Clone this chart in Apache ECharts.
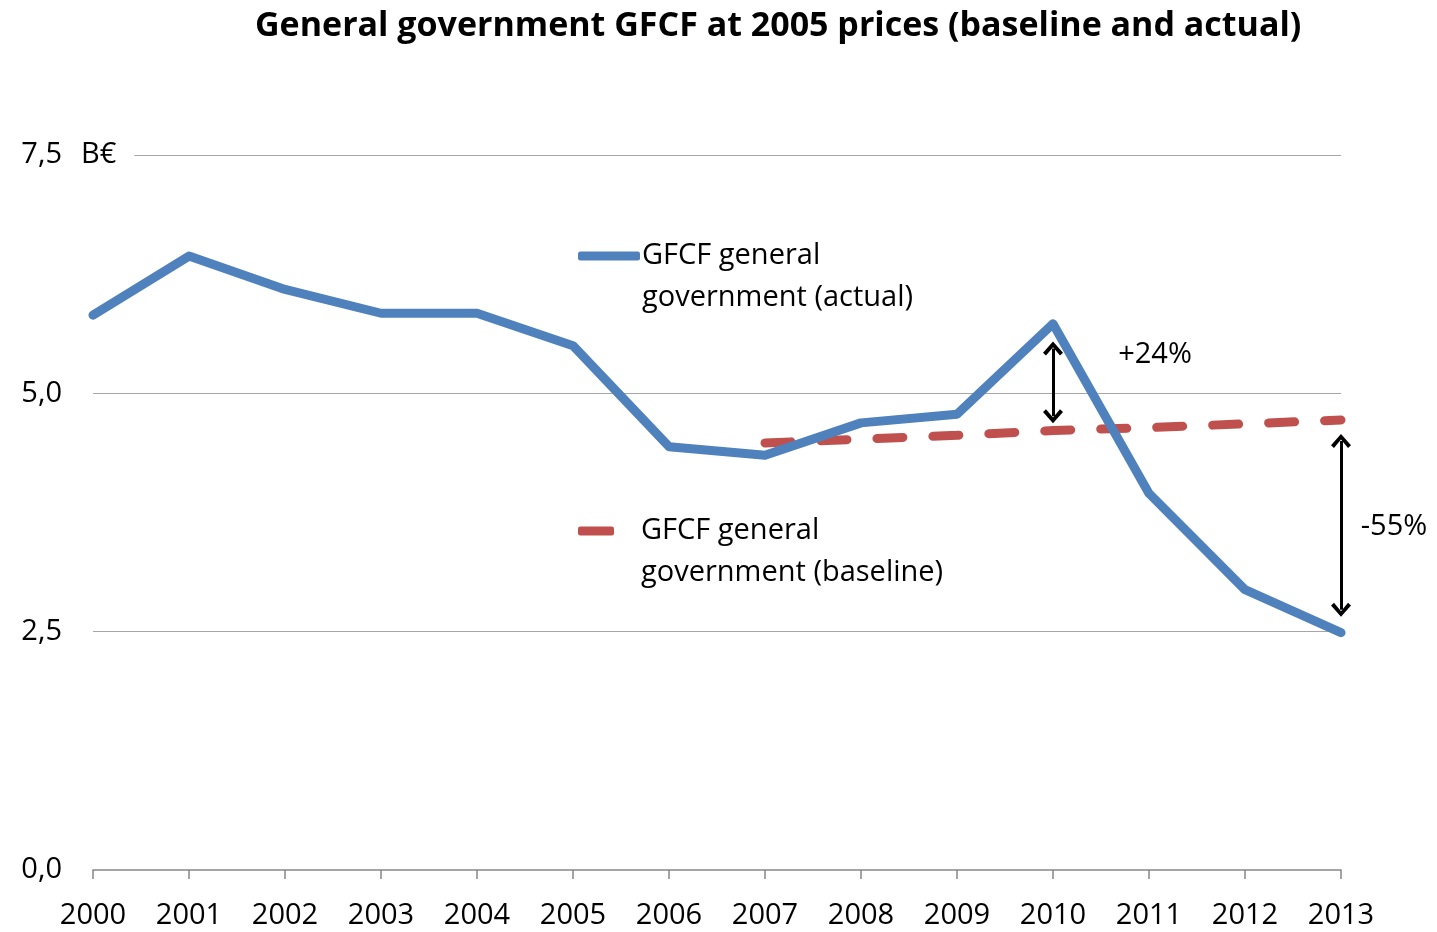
<!DOCTYPE html>
<html>
<head>
<meta charset="utf-8">
<title>General government GFCF</title>
<script src="https://cdn.jsdelivr.net/npm/echarts@6/dist/echarts.min.js"></script>
<style>
  html, body { margin: 0; padding: 0; background: #fff; }
  #chart { width: 1437px; height: 932px; }
</style>
</head>
<body>
<div id="chart"></div>
<script>
  // data (billion euro, 2005 prices)
  const years = ['2000', '2001', '2002', '2003', '2004', '2005', '2006',
                 '2007', '2008', '2009', '2010', '2011', '2012', '2013'];
  const actual = [5.82, 6.44, 6.09, 5.84, 5.84, 5.50, 4.44,
                  4.35, 4.69, 4.78, 5.73, 3.95, 2.94, 2.49];
  const baseline = [null, null, null, null, null, null, null,
                    4.48, 4.52, 4.56, 4.61, 4.64, 4.68, 4.72];
  const yTicks = [0, 2.5, 5, 7.5];

  // gap arrows: [year, from, to, label, label value]
  const gapUp = ['2010', 5.47, 4.76, '+24%', 5.40];
  const gapDown = ['2013', 4.50, 2.73, '-55%', 3.60];

  const FONT = 'Open Sans';
  const chevron = 'path://M0,10 L10,0 L20,10 L17,12.5 L10,5 L3,12.5 Z';

  const chart = echarts.init(document.getElementById('chart'));

  // legend text: empty first line so the icon sits beside the first text line
  function legendText(a, b) {
    return '\n{t|' + a + '}\n{t|' + b + '}';
  }

  const option = {
    animation: false,
    title: {
      text: 'General government GFCF at 2005 prices (baseline and actual)',
      left: 250,
      top: 4,
      textStyle: { fontFamily: FONT, fontWeight: 'bold', fontSize: 34, color: '#000' }
    },
    grid: { left: 93, right: 96, top: 155, bottom: 62 },
    legend: [
      {
        data: ['GFCF general government (actual)'],
        left: 578, top: 193,
        padding: 0,
        selectedMode: false,
        icon: 'roundRect',
        itemWidth: 62, itemHeight: 9,
        formatter: () => legendText('GFCF general', 'government (actual)'),
        textStyle: {
          fontFamily: FONT, fontSize: 29, color: '#000', lineHeight: 42,
          rich: { t: { fontFamily: FONT, fontSize: 29, color: '#000', lineHeight: 42, padding: [0, 0, 0, -3] } }
        }
      },
      {
        data: ['GFCF general government (baseline)'],
        left: 578, top: 468,
        padding: 0,
        selectedMode: false,
        icon: 'roundRect',
        itemWidth: 36, itemHeight: 9,
        formatter: () => legendText('GFCF general', 'government (baseline)'),
        textStyle: {
          fontFamily: FONT, fontSize: 29, color: '#000', lineHeight: 42,
          rich: { t: { fontFamily: FONT, fontSize: 29, color: '#000', lineHeight: 42, padding: [0, 0, 0, 22] } }
        }
      }
    ],
    xAxis: {
      type: 'category',
      data: years,
      boundaryGap: false,
      axisLine: { lineStyle: { color: '#868686', width: 1.5 } },
      axisTick: { show: true, length: 9, alignWithLabel: true, lineStyle: { color: '#868686', width: 1.5 } },
      axisLabel: { fontFamily: FONT, fontSize: 29, color: '#000', margin: 31, interval: 0 },
      splitLine: { show: false }
    },
    yAxis: {
      type: 'value',
      min: yTicks[0],
      max: yTicks[yTicks.length - 1],
      interval: 2.5,
      axisLine: { show: false },
      axisTick: { show: false },
      axisLabel: {
        fontFamily: FONT, fontSize: 29, color: '#000', margin: 31,
        formatter: v => v.toFixed(1).replace('.', ',')
      },
      splitLine: {
        show: true,
        lineStyle: { color: '#a6a6a6', width: 1.2 },
        showMinLine: false
      }
    },
    graphic: [
      {
        type: 'text',
        left: 81, top: 138,
        z: 10,
        style: {
          text: 'B€',
          font: '29px "Open Sans"',
          fill: '#000',
          backgroundColor: '#fff',
          padding: [2, 18, 2, 0]
        }
      }
    ],
    series: [
      {
        name: 'GFCF general government (actual)',
        type: 'line',
        data: actual,
        showSymbol: false,
        symbol: 'none',
        z: 3,
        itemStyle: { color: '#4F81BD' },
        lineStyle: { color: '#4F81BD', width: 9, join: 'round', cap: 'round' },
        markLine: {
          silent: true,
          symbol: [chevron, chevron],
          symbolSize: [20, 14],
          lineStyle: { color: '#000', width: 3, type: 'solid' },
          label: { show: false },
          data: [
            [{ coord: [gapUp[0], gapUp[1]] }, { coord: [gapUp[0], gapUp[2]] }],
            [{ coord: [gapDown[0], gapDown[1]] }, { coord: [gapDown[0], gapDown[2]] }]
          ]
        },
        markPoint: {
          silent: true,
          symbol: 'circle',
          symbolSize: 0,
          label: { show: true, fontFamily: FONT, fontSize: 29, color: '#000' },
          data: [
            { coord: [gapUp[0], gapUp[4]], label: { formatter: gapUp[3], offset: [102, 0] } },
            { coord: [gapDown[0], gapDown[4]], label: { formatter: gapDown[3], offset: [53, 0] } }
          ]
        }
      },
      {
        name: 'GFCF general government (baseline)',
        type: 'line',
        data: baseline,
        showSymbol: false,
        symbol: 'none',
        z: 2,
        itemStyle: { color: '#C0504D' },
        lineStyle: { color: '#C0504D', width: 9, type: [26, 30], cap: 'round' }
      }
    ]
  };

  chart.setOption(option);
</script>
</body>
</html>
